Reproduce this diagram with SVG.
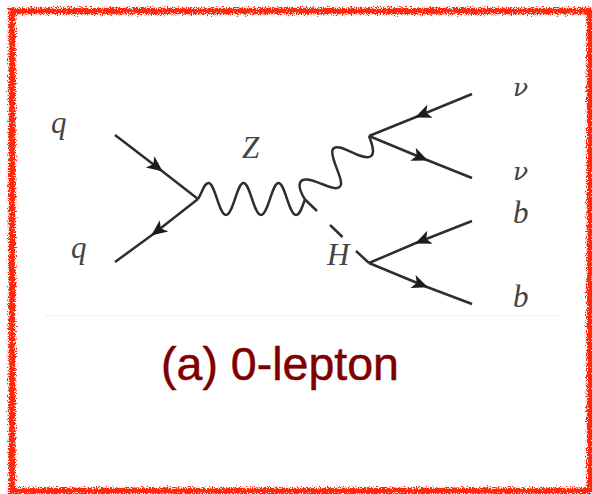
<svg xmlns="http://www.w3.org/2000/svg" width="592" height="494" viewBox="0 0 592 494">
<style>
.l{fill:none;stroke:#2e2e2e;stroke-width:2.500;stroke-linecap:butt;stroke-linejoin:round}
.a{marker-mid:url(#ah)}
.t{font-family:"Liberation Serif",serif;font-style:italic;font-size:31px;fill:#444}
.n{font-family:"DejaVu Serif",serif;font-style:italic;font-size:25px;fill:#444}
</style>
<defs>
<marker id="ah" markerUnits="userSpaceOnUse" markerWidth="20" markerHeight="16" refX="15" refY="8" orient="auto" overflow="visible">
<path d="M0 1L16 8L0 15L4 8Z" fill="#1c1c1c"/>
</marker>
<filter id="rough" x="-5%" y="-5%" width="110%" height="110%">
<feTurbulence type="fractalNoise" baseFrequency="0.8" numOctaves="2" seed="4"/>
<feDisplacementMap in="SourceGraphic" scale="9" xChannelSelector="R" yChannelSelector="G"/>
</filter>
<filter id="soft" x="-5%" y="-5%" width="110%" height="110%"><feGaussianBlur stdDeviation="0.45"/></filter>
</defs>
<rect width="592" height="494" fill="#fff"/>
<rect id="frame" x="12" y="11" width="578" height="480" fill="none" stroke="#ff2a10" stroke-width="6.500" filter="url(#rough)"/>
<path id="rule" d="M45 315.500H560" stroke="#f3f3f3" stroke-width="1.500" fill="none"/>
<g id="connectors" filter="url(#soft)">
<path class="l a" d="M115 135L162 171L198 199"/>
<path class="l a" d="M198 199L152 235L115 262"/>
<path class="l" d="M198 199C203 191 204 183 208.500 183C215 183 219 215 226 215C233 215 237 183 243.500 183C250 183 254 215 261 215C268 215 272 183 278.500 183C285 183 289 215 296 215C300 215 302 207 305 199.500C301 193 298 186 300.500 182C303 177 311 180 322 184C331 187.500 339 191 341 184.500C342.500 177 330 158 332.500 150C335 143 348 151 358 155C366 158 373 159 373 151C373 146 371 141 369 136"/>
<path class="l" d="M305 199.500L317 211M330 225L342.500 237M356 251L369 263"/>
<path class="l a" d="M472 94L416 117L369 136"/>
<path class="l a" d="M369 136L427 160L472 178"/>
<path class="l a" d="M472 221L416 243L369 263"/>
<path class="l a" d="M369 263L427 287L472 304"/>
</g>
<g id="q1"><text class="t" x="51" y="133">q</text></g>
<g id="q2"><text class="t" x="71" y="258">q</text></g>
<g id="z"><text class="t" x="242" y="158">Z</text></g>
<g id="h"><text class="t" x="327" y="265">H</text></g>
<g id="nu1"><text class="n" x="513" y="96">ν</text></g>
<g id="nu2"><text class="n" x="513" y="180">ν</text></g>
<g id="b1"><text class="t" x="513" y="223">b</text></g>
<g id="b2"><text class="t" x="513" y="307">b</text></g>
<g id="caption"><text x="280" y="380" text-anchor="middle" font-family="'Liberation Sans',Arial,sans-serif" font-size="46.500" fill="#800000" stroke="#800000" stroke-width="0.500">(a) 0-lepton</text></g>
</svg>
